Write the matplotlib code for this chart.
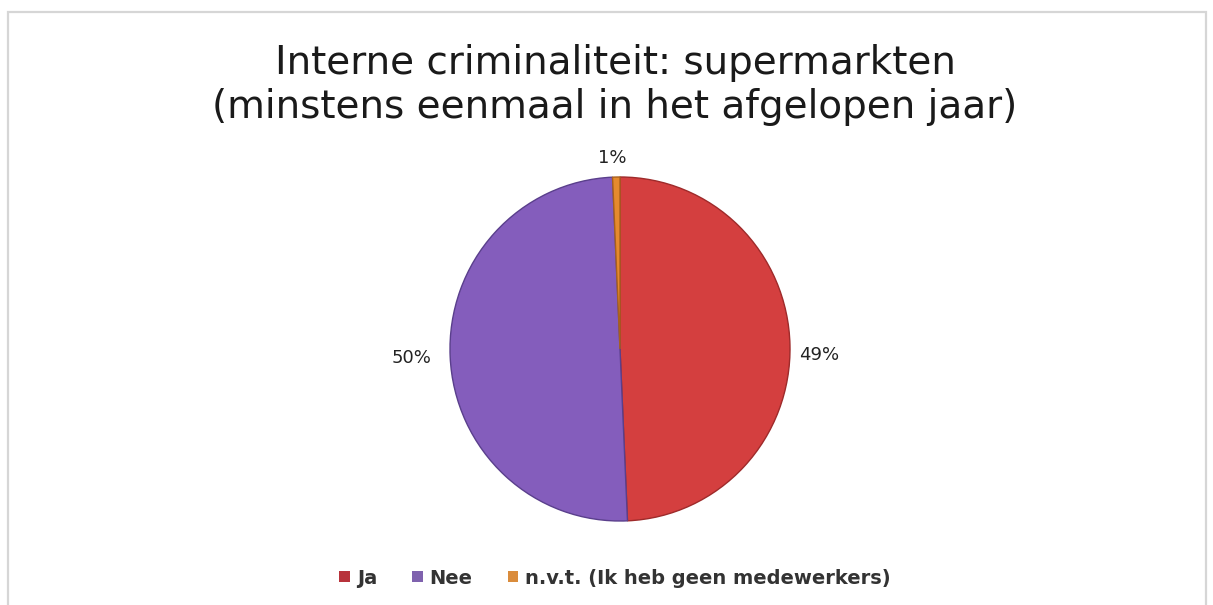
import numpy as np
import matplotlib.pyplot as plt
from matplotlib.patches import Rectangle, Patch

# data (labels are rounded, slice sizes)
categories = ['Ja', 'Nee', 'n.v.t. (Ik heb geen medewerkers)']
values = [49.3, 50.0, 0.7]
pct_labels = ['49%', '50%', '1%']
slice_colors = ['#D43F3F', '#845DBC', '#E58A2E']
edge_colors = ['#9E2A2A', '#5A3F8C', '#A8601C']
legend_colors = ['#B8333B', '#7F62AE', '#DA8C3C']

title = 'Interne criminaliteit: supermarkten\n(minstens eenmaal in het afgelopen jaar)'

W, H = 1213, 605
fig = plt.figure(figsize=(W / 100, H / 100), dpi=100)
fig.patch.set_facecolor('white')

# light frame around the chart area
fig.add_artist(Rectangle((8 / W, -0.05), 1198 / W, 1 - 12 / H + 0.05,
                         transform=fig.transFigure, fill=False,
                         edgecolor='#d6d6d6', lw=1.6))

# pie axes: center (620, 349), radii 170 x 172 px
cx, cy, rx, ry = 620, 349, 170, 172
ax = fig.add_axes([(cx - rx) / W, 1 - (cy + ry) / H, 2 * rx / W, 2 * ry / H])
wedges, _ = ax.pie(values, colors=slice_colors, startangle=90, counterclock=False,
                   radius=1, wedgeprops=dict(linewidth=1.0))
for w, ec in zip(wedges, edge_colors):
    w.set_edgecolor(ec)
ax.set_xlim(-1, 1)
ax.set_ylim(-1, 1)
ax.set_aspect('auto')
ax.axis('off')

# percentage labels outside the slices
dists = [1.17, 1.23, 1.11]
nudge_y = [-0.06, 0.0, 0.0]
nudge_x = [0.0, 0.0, -0.02]
for w, lab, d, nx, ny in zip(wedges, pct_labels, dists, nudge_x, nudge_y):
    ang = np.deg2rad((w.theta1 + w.theta2) / 2)
    ax.text(d * np.cos(ang) + nx, d * np.sin(ang) + ny, lab, ha='center', va='center',
            fontsize=13, color='#222222')

fig.text(615 / W, 1 - 85 / H, title, ha='center', va='center', fontsize=28,
         color='#1a1a1a', linespacing=1.2)

handles = [Patch(facecolor=c, edgecolor='none') for c in legend_colors]
fig.legend(handles, categories, loc='center', bbox_to_anchor=(615 / W, 1 - 578 / H),
           ncol=3, frameon=False, handlelength=0.55, handleheight=0.55,
           handletextpad=0.35, columnspacing=1.8, labelcolor='#333333',
           prop=dict(size=14, weight='bold'))

fig.savefig('out.png', dpi=100)
